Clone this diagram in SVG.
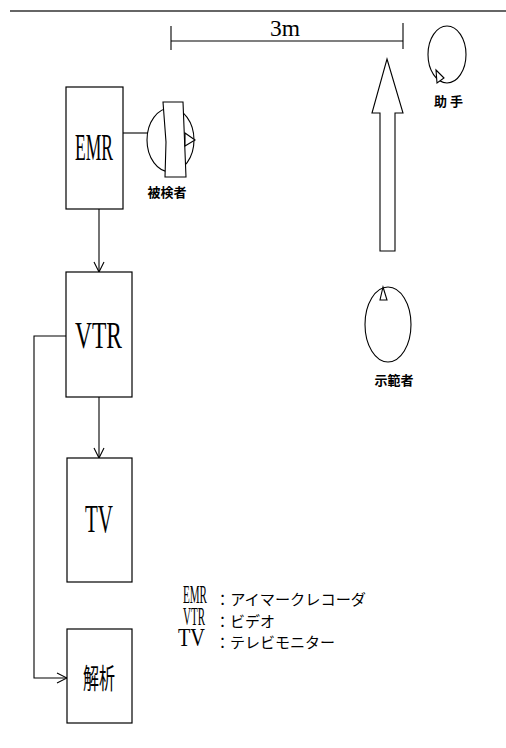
<svg xmlns="http://www.w3.org/2000/svg" width="506" height="748" viewBox="0 0 506 748">
<style>
.box{fill:#fff;stroke:#000;stroke-width:1.2}
.ln{fill:none;stroke:#000;stroke-width:1.1}
.sh{fill:#fff;stroke:#000;stroke-width:1.1}
.big{font-family:"Liberation Serif",serif;fill:#000}
.jp{font-family:"Noto Sans CJK JP",sans-serif;fill:#000}
.lab{font-family:"Noto Sans CJK JP",sans-serif;font-weight:bold;font-size:13px;fill:#000;text-anchor:middle}
</style>
<defs>
<marker id="v" viewBox="0 0 12 12" refX="11" refY="6" markerWidth="12" markerHeight="12" markerUnits="userSpaceOnUse" orient="auto">
<path d="M1,1 L11,6 L1,11" fill="none" stroke="#000" stroke-width="1.1"/>
</marker>
</defs>
<line x1="10" y1="11" x2="506" y2="11" stroke="#333" stroke-width="1.5"/>
<g id="dimension">
<line class="ln" x1="171" y1="26" x2="171" y2="50"/>
<line class="ln" x1="171" y1="41" x2="403" y2="41"/>
<line class="ln" x1="403" y1="23" x2="403" y2="49"/>
<text class="big" x="270" y="36" font-size="24" textLength="30" lengthAdjust="spacingAndGlyphs">3m</text>
</g>
<g id="connectors">
<line class="ln" x1="123" y1="133" x2="148" y2="133"/>
<line class="ln" x1="99" y1="209" x2="99" y2="272" marker-end="url(#v)"/>
<line class="ln" x1="99" y1="397" x2="99" y2="458" marker-end="url(#v)"/>
<polyline class="ln" points="66,336 34,336 34,678 67,678" marker-end="url(#v)"/>
</g>
<g id="emr">
<rect class="box" x="66" y="87" width="57" height="122"/>
<text class="big" x="75" y="160" font-size="37" textLength="38" lengthAdjust="spacingAndGlyphs">EMR</text>
</g>
<g id="vtr">
<rect class="box" x="66" y="272" width="66" height="125"/>
<text class="big" x="75" y="348" font-size="37" textLength="47" lengthAdjust="spacingAndGlyphs">VTR</text>
</g>
<g id="tv">
<rect class="box" x="67" y="458" width="65" height="124"/>
<text class="big" x="85" y="532" font-size="39" textLength="28" lengthAdjust="spacingAndGlyphs">TV</text>
</g>
<g id="analysis">
<rect class="box" x="67" y="629" width="65" height="94"/>
<text class="jp" x="83" y="689" font-size="28" textLength="32" lengthAdjust="spacingAndGlyphs">解析</text>
</g>
<g id="subject">
<ellipse class="sh" cx="170.5" cy="140" rx="23.5" ry="32"/>
<polygon class="sh" points="163,102 183,102 186,177 165,177 166,142"/>
<polygon class="sh" points="185,133 195,140 185,146"/>
<text class="lab" x="167" y="197">被検者</text>
</g>
<g id="assistant">
<ellipse class="sh" cx="447" cy="54.5" rx="19" ry="28.5"/>
<polygon class="sh" points="436,70 444,78 437,83"/>
<text class="lab" x="450" y="106" letter-spacing="3">助手</text>
</g>
<g id="bigarrow">
<polygon class="sh" points="387,59 403,113 395,113 395,251 380,251 380,113 372,113"/>
</g>
<g id="demonstrator">
<ellipse class="sh" cx="388" cy="324.5" rx="23" ry="37.5"/>
<polygon class="sh" points="383,287 387,300 380,300"/>
<text class="lab" x="394" y="385">示範者</text>
</g>
<g id="legend">
<text class="big" transform="translate(183,603) scale(1,1.45)" font-size="18" textLength="24" lengthAdjust="spacingAndGlyphs">EMR</text>
<text class="jp" x="215" y="605" font-size="15" textLength="151" lengthAdjust="spacingAndGlyphs">：アイマークレコーダ</text>
<text class="big" transform="translate(183,625) scale(1,1.45)" font-size="18" textLength="22" lengthAdjust="spacingAndGlyphs">VTR</text>
<text class="jp" x="215" y="627" font-size="15">：ビデオ</text>
<text class="big" transform="translate(178,646) scale(1,1.35)" font-size="18" textLength="27" lengthAdjust="spacingAndGlyphs">TV</text>
<text class="jp" x="215" y="648" font-size="15">：テレビモニター</text>
</g>
</svg>
